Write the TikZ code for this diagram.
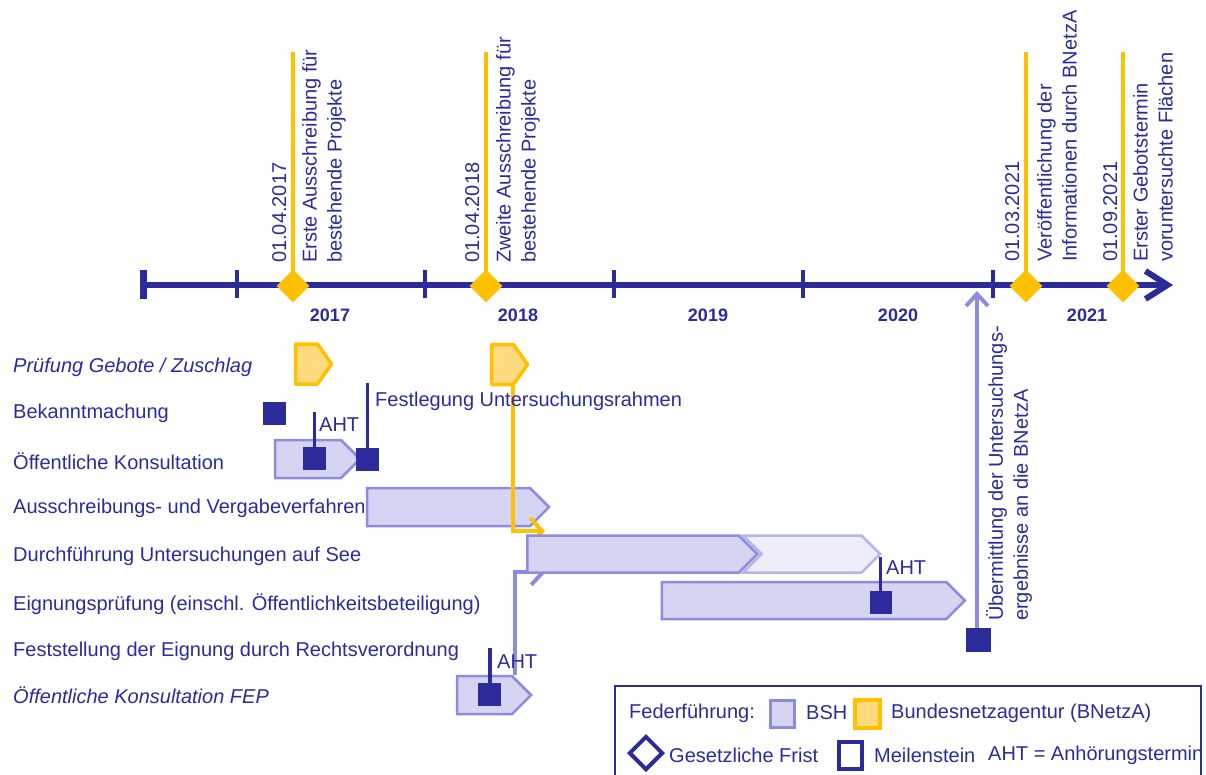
\documentclass[tikz,border=0pt]{standalone}
\usepackage{fontspec}
\setmainfont{Liberation Sans}
\usepackage{tikz}
\usetikzlibrary{positioning,
                arrows.meta,
                backgrounds,
                shapes.geometric,
                shapes.symbols}
\definecolor{bshnavy}{HTML}{2B2B9C}
\definecolor{bshlila}{HTML}{D5D5F3}
\definecolor{bshrand}{HTML}{8C8CDE}
\definecolor{bshpale}{HTML}{EEEEFB}
\definecolor{bshpalerand}{HTML}{B4B4EC}
\definecolor{bnagelb}{HTML}{FFC000}
\definecolor{bnahell}{HTML}{FFDA7E}

\begin{document}
\begin{tikzpicture}[x=1pt,y=-1pt]

\tikzset{
rowlabel/.style={
anchor=west,
inner sep=0pt,
text=bshnavy,
font=\fontsize{20}{24}\selectfont
},
rowitalic/.style={
rowlabel,
font=\itshape\fontsize{20}{24}\selectfont
},
yearlabel/.style={
text=bshnavy,
font=\bfseries\fontsize{18}{20}\selectfont
},
vertlabel/.style={
rotate=90,
anchor=north west,
inner sep=0pt,
align=left,
text=bshnavy,
font=\fontsize{20}{25}\selectfont
},
bshbar/.style={
signal,
signal to=east,
signal pointer angle=90,
draw=bshrand,
fill=bshlila,
line width=2.5pt,
inner sep=0pt,
minimum height=37pt
},
bshbarlight/.style={
bshbar,
signal from=west,
draw=bshpalerand,
fill=bshpale
},
bnabar/.style={
signal,
signal to=east,
signal pointer angle=110,
draw=bnagelb,
fill=bnahell,
line width=3.5pt,
line join=round,
inner sep=0pt,
minimum width=36pt,
minimum height=40pt
},
meilenstein/.style={
fill=bshnavy,
minimum width=23pt,
minimum height=23pt,
inner sep=0pt
},
msline/.style={draw=bshnavy, line width=3.5pt},
frist/.style={
diamond,
fill=bnagelb,
minimum size=33pt,
inner sep=0pt
},
fristline/.style={draw=bnagelb, line width=4pt},
tickmark/.style={draw=bshnavy, line width=4.5pt},
timeline/.style={
draw=bshnavy,
line width=6pt,
-{Straight Barb[length=22pt,width=28pt]}
},
bshconn/.style={
draw=bshrand,
line width=4pt,
-{Straight Barb[length=12pt,width=26pt]}
},
bnaconn/.style={
draw=bnagelb,
line width=4pt,
-{Straight Barb[length=12pt,width=26pt]}
}
}

\useasboundingbox (0,0) rectangle (1206,774);

%--------------------------------------------------
% TIMELINE
%--------------------------------------------------

\coordinate (tlstart) at (146,285);
\coordinate (tlend) at (1173,285);
\draw[timeline] (tlstart) -- (tlend);

\draw[tickmark, line width=7pt] (143,270) -- (143,299);
\draw[tickmark] (237,270) -- (237,298);
\draw[tickmark] (425,270) -- (425,298);
\draw[tickmark] (614,270) -- (614,298);
\draw[tickmark] (803,270) -- (803,298);
\draw[tickmark] (993,270) -- (993,298);

\node[yearlabel] (y2017) at (330,315) {2017};
\node[yearlabel] (y2018) at (518,315) {2018};
\node[yearlabel] (y2019) at (708,315) {2019};
\node[yearlabel] (y2020) at (898,315) {2020};
\node[yearlabel] (y2021) at (1087,315) {2021};

%--------------------------------------------------
% FRISTEN
%--------------------------------------------------

\coordinate (frist1top) at (293,52);
\coordinate (frist2top) at (486,52);
\coordinate (frist3top) at (1026,52);
\coordinate (frist4top) at (1123,52);

\node[frist] (frist1) at (293,286) {};
\node[frist] (frist2) at (486,286) {};
\node[frist] (frist3) at (1026,286) {};
\node[frist] (frist4) at (1123,286) {};

\draw[fristline] (frist1.center) -- (frist1top);
\draw[fristline] (frist2.center) -- (frist2top);
\draw[fristline] (frist3.center) -- (frist3top);
\draw[fristline] (frist4.center) -- (frist4top);

\node[vertlabel] (date1) at (272,263) {01.04.2017};
\node[vertlabel] (text1) at (302,263)
{Erste Ausschreibung für\\bestehende Projekte};

\node[vertlabel] (date2) at (465,263) {01.04.2018};
\node[vertlabel] (text2) at (496,263)
{Zweite Ausschreibung für\\bestehende Projekte};

\node[vertlabel] (date3) at (1005,262) {01.03.2021};
\node[vertlabel] (text3) at (1037,262)
{Veröffentlichung der\\Informationen durch BNetzA};

\node[vertlabel] (date4) at (1103,262) {01.09.2021};
\node[vertlabel] (text4) at (1133,262)
{Erster Gebotstermin\\voruntersuchte Flächen};

%--------------------------------------------------
% ROW LABELS
%--------------------------------------------------

\node[rowitalic] (lbpruef) at (13,367) {Prüfung Gebote / Zuschlag};
\node[rowlabel] (lbbekannt) at (13,413) {Bekanntmachung};
\node[rowlabel] (lbkons) at (13,461) {Öffentliche Konsultation};
\node[rowlabel] (lbaus) at (13,508) {Ausschreibungs- und Vergabeverfahren};
\node[rowlabel] (lbunt) at (13,556) {Durchführung Untersuchungen auf See};
\node[rowlabel] (lbeign) at (13,604)
{Eignungsprüfung (einschl. Öffentlichkeitsbeteiligung)};
\node[rowlabel] (lbfest) at (13,651)
{Feststellung der Eignung durch Rechtsverordnung};
\node[rowitalic] (lbfep) at (13,695) {Öffentliche Konsultation FEP};

%--------------------------------------------------
% BARS
%--------------------------------------------------

\node[bnabar] (pgb1) at (306.5,364) {};
\node[bnabar] (pgb2) at (502.5,364.5) {};

\node[bshbar, minimum width=85pt, minimum height=38pt] (konsbar) at (308,459) {};
\node[bshbar, minimum width=230pt] (unt1) at (633,554) {};
\node[bshbarlight, minimum width=137pt] (unt2) at (811.5,554) {};
\node[bshbar, minimum width=303pt] (eigbar) at (804,600.5) {};
\node[bshbar, minimum width=74pt, minimum height=38pt] (fepbar) at (484.5,695) {};

% ausschreibung and connectors sit below the survey bar
\begin{pgfonlayer}{background}
\node[bshbar, minimum width=182pt, minimum height=38pt] (ausbar) at (448.5,507) {};
\draw[bnaconn] ([xshift=10.5pt]pgb2.south) |- ([xshift=19pt,yshift=3pt]unt1.north west);
\draw[bshconn] ([xshift=30.5pt]fepbar.north) |- ([xshift=20pt,yshift=2pt]unt1.south west);
\end{pgfonlayer}

%--------------------------------------------------
% MEILENSTEINE
%--------------------------------------------------

\node[meilenstein] (bekannt) at (274.5,413.5) {};

\coordinate (aht1top) at (314.5,412);
\draw[msline] (aht1top) -- (314.5,450);
\node[meilenstein] (aht1) at (314.5,458.5) {};
\node[rowlabel] (aht1lb) at (319,425) {AHT};

\coordinate (festtop) at (367.5,383);
\draw[msline] (festtop) -- (367.5,450);
\node[meilenstein] (fest) at (367.5,459.5) {};
\node[rowlabel] (festlb) at (375,401) {Festlegung Untersuchungsrahmen};

\coordinate (aht2top) at (880.5,557);
\draw[msline] (aht2top) -- (880.5,595);
\node[meilenstein, minimum width=22pt] (aht2) at (880.5,602.5) {};
\node[rowlabel] (aht2lb) at (886,568) {AHT};

\coordinate (aht3top) at (490,648);
\draw[msline] (aht3top) -- (490,686);
\node[meilenstein] (aht3) at (489.5,694.5) {};
\node[rowlabel] (aht3lb) at (497,662) {AHT};

%--------------------------------------------------
% UEBERMITTLUNG
%--------------------------------------------------

\node[meilenstein, minimum width=25pt, minimum height=24pt] (uebms) at (978,640) {};
\coordinate (uebtop) at (977,291);
\draw[draw=bshrand, line width=4pt, -{Straight Barb[length=12pt,width=22pt]}]
(uebms.north -| uebtop) -- (uebtop);
\node[vertlabel] (uebtext) at (986,621)
{Übermittlung der Untersuchungs-\\ergebnisse an die BNetzA};

%--------------------------------------------------
% LEGEND
%--------------------------------------------------

\draw[bshnavy, line width=1.5pt] (615,776) -- (615,686) -- (1201,686) -- (1201,776);

\node[rowlabel] (lgfeder) at (629,713) {Federführung:};
\node[draw=bshrand, fill=bshlila, line width=2.5pt,
minimum width=24pt, minimum height=27pt, inner sep=0pt] (lgbsh) at (782.5,714) {};
\node[rowlabel] (lgbshtx) at (806,713) {BSH};
\node[draw=bnagelb, fill=bnahell, line width=3.5pt,
minimum width=25pt, minimum height=28pt, inner sep=0pt] (lgbna) at (867.5,714) {};
\node[rowlabel] (lgbnatx) at (891,713) {Bundesnetzagentur (BNetzA)};

\node[diamond, draw=bshnavy, line width=4pt, minimum size=34pt,
inner sep=0pt] (lgfrist) at (646,753) {};
\node[rowlabel] (lgfristtx) at (669,755) {Gesetzliche Frist};
\node[draw=bshnavy, line width=4pt, minimum width=23pt,
minimum height=27pt, inner sep=0pt] (lgms) at (850,755) {};
\node[rowlabel] (lgmstx) at (874,755) {Meilenstein};
\node[rowlabel] (lgaht) at (988,755) {AHT = Anhörungstermin};

\end{tikzpicture}
\end{document}
